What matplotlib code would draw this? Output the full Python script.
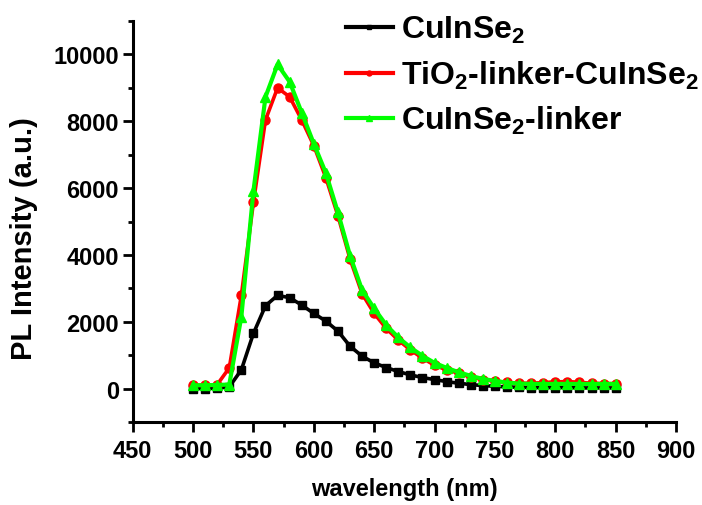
import matplotlib
matplotlib.use("Agg")
import matplotlib.pyplot as plt
from matplotlib.ticker import MultipleLocator

plt.rcParams["font.family"] = ["Liberation Sans", "DejaVu Sans"]
plt.rcParams["font.weight"] = "bold"
plt.rcParams["mathtext.fontset"] = "custom"
plt.rcParams["mathtext.rm"] = "Liberation Sans:bold"
plt.rcParams["mathtext.bf"] = "Liberation Sans:bold"
plt.rcParams["mathtext.default"] = "bf"

wavelength = list(range(500, 860, 10))

cuinse2 = [0, 0, 10, 50, 560, 1650, 2480, 2790, 2720, 2500,
           2250, 2020, 1720, 1270, 970, 770, 630, 510, 410, 330,
           270, 210, 160, 120, 90, 70, 50, 40, 30, 30,
           30, 30, 20, 20, 20, 20]

tio2_linker_cuinse2 = [100, 100, 120, 620, 2790, 5570, 8040, 9000, 8730, 8040,
                       7270, 6310, 5170, 3880, 2840, 2250, 1800, 1450, 1160, 910,
                       700, 560, 460, 340, 270, 220, 190, 160, 160, 180,
                       200, 210, 190, 160, 150, 150]

cuinse2_linker = [100, 100, 110, 120, 2150, 5910, 8730, 9700, 9180, 8260,
                  7330, 6450, 5270, 3980, 2950, 2400, 1900, 1530, 1230, 980,
                  770, 620, 490, 380, 290, 230, 180, 150, 140, 140,
                  140, 140, 140, 140, 140, 140]

labels = ["CuInSe$_2$", "TiO$_2$-linker-CuInSe$_2$", "CuInSe$_2$-linker"]

fig = plt.figure(figsize=(7.02, 5.06), dpi=100)
ax = fig.add_axes([0.189, 0.164, 0.774, 0.7925])

ax.plot(wavelength, cuinse2, color="black", lw=2.6, marker="s", ms=6, label=labels[0])
ax.plot(wavelength, tio2_linker_cuinse2, color="red", lw=2.6, marker="o", ms=6.5, label=labels[1])
ax.plot(wavelength, cuinse2_linker, color="#00ff00", lw=3, marker="^", ms=7.5, label=labels[2])

ax.set_xlim(450, 900)
ax.set_ylim(-1000, 11000)
ax.xaxis.set_major_locator(MultipleLocator(50))
ax.xaxis.set_minor_locator(MultipleLocator(25))
ax.yaxis.set_major_locator(MultipleLocator(2000))
ax.yaxis.set_minor_locator(MultipleLocator(1000))

for side in ("top", "right"):
    ax.spines[side].set_visible(False)
for side in ("left", "bottom"):
    ax.spines[side].set_linewidth(2.2)

ax.tick_params(which="major", length=7, width=2, labelsize=17)
ax.tick_params(axis="x", which="major", pad=5)
ax.tick_params(axis="y", which="major", pad=3)
ax.tick_params(which="minor", length=3.6, width=2)
for t in ax.get_xticklabels() + ax.get_yticklabels():
    t.set_fontweight("bold")

ax.set_xlabel("wavelength (nm)", fontsize=17, fontweight="bold", labelpad=11)
ax.set_ylabel("PL Intensity (a.u.)", fontsize=21, fontweight="bold")
ax.yaxis.set_label_coords(-0.174, 0.46)

leg = ax.legend(loc="upper left", bbox_to_anchor=(0.474, 0.995), bbox_transform=fig.transFigure,
                frameon=False, fontsize=23, handlelength=1.5, handletextpad=0.25,
                labelspacing=0.42, borderaxespad=0, markerscale=0.55, numpoints=1)
for line in leg.get_lines():
    line.set_linewidth(3)

fig.savefig("out.png", dpi=100)
